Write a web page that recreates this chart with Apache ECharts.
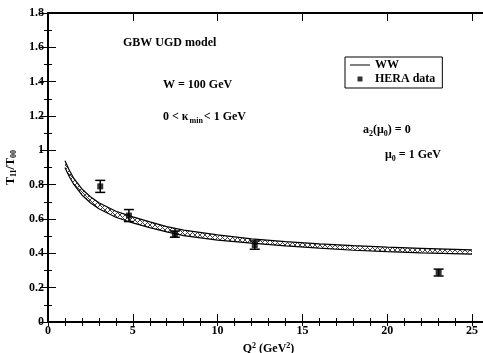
<!DOCTYPE html>
<html><head><meta charset="utf-8">
<script src="https://cdn.jsdelivr.net/npm/echarts@6/dist/echarts.min.js"></script>
<style>html,body{margin:0;padding:0;background:#fff}#c{width:483px;height:353px}</style>
</head><body><div id="c"></div>
<script>
// ---- data ----
const bandX     = [1, 1.25, 1.5, 2, 2.5, 3, 4, 5, 6, 7, 8, 10, 12, 14, 16, 18, 20, 22, 25];
const bandUpper = [0.94, 0.885, 0.84, 0.775, 0.73, 0.695, 0.645, 0.612, 0.583, 0.556, 0.535, 0.507, 0.484, 0.468, 0.455, 0.445, 0.436, 0.429, 0.42];
const bandLower = [0.90, 0.848, 0.805, 0.74, 0.695, 0.66, 0.61, 0.577, 0.55, 0.525, 0.503, 0.477, 0.459, 0.443, 0.43, 0.418, 0.41, 0.403, 0.395];
const heraX   = [3.08, 4.77, 7.48, 12.19, 23.03];
const heraY   = [0.79, 0.62, 0.512, 0.448, 0.288];
const heraErr = [0.035, 0.035, 0.018, 0.024, 0.02];
const xTickLabels = ['0', '5', '10', '15', '20', '25'];
const yTickLabels = ['0', '0.2', '0.4', '0.6', '0.8', '1', '1.2', '1.4', '1.6', '1.8'];

const FONT = 'Liberation Serif';
function hatch() {
  const c = document.createElement('canvas');
  c.width = 5; c.height = 5;
  const g = c.getContext('2d');
  g.fillStyle = '#fff'; g.fillRect(0, 0, 5, 5);
  g.strokeStyle = '#444'; g.lineWidth = 1;
  g.beginPath();
  g.moveTo(0, 0); g.lineTo(5, 5);
  g.moveTo(5, 0); g.lineTo(0, 5);
  g.stroke();
  return c;
}
const HATCH = hatch();
const chart = echarts.init(document.getElementById('c'));
const axisCommon = {
  type: 'value', min: 0, max: 26,
  axisLine: {show: false}, splitLine: {show: false},
  axisLabel: {show: false}
};
const yCommon = {
  type: 'value', min: 0, max: 1.8, interval: 0.2,
  splitLine: {show: false},
  axisLine: {show: true, lineStyle: {color: '#000', width: 2}},
  axisTick: {show: true, inside: true, length: 8, lineStyle: {color: '#000', width: 1}},
  minorTick: {show: true, splitNumber: 2, length: 4, lineStyle: {color: '#000', width: 1}}
};
const bold = {fontFamily: FONT, fontWeight: 'bold', fontSize: 12, color: '#000'};
const option = {
  animation: false,
  backgroundColor: '#fff',
  grid: {left: 48, top: 13, bottom: 31, right: -6, containLabel: false, outerBoundsMode: 'none'},
  xAxis: [
    Object.assign({}, axisCommon, {
      position: 'bottom', interval: 5,
      axisLine: {show: true, onZero: false, lineStyle: {color: '#000', width: 2}},
      axisTick: {show: true, inside: true, length: 8, lineStyle: {color: '#000', width: 1}},
      axisLabel: Object.assign({show: true, margin: 3, showMaxLabel: false,
        formatter: v => xTickLabels.includes(String(v)) ? String(v) : ''}, bold),
      name: 'Q{p|2} (GeV{p|2})', nameLocation: 'middle', nameGap: 17,
      nameTextStyle: Object.assign({}, bold, {rich: {p: Object.assign({}, bold, {fontSize: 8, padding: [0, 0, 7, 0]})}})
    }),
    Object.assign({}, axisCommon, {
      position: 'bottom', interval: 1,
      axisTick: {show: true, inside: true, length: 4, lineStyle: {color: '#000', width: 1}}
    }),
    Object.assign({}, axisCommon, {
      position: 'top', interval: 5,
      axisLine: {show: true, onZero: false, lineStyle: {color: '#000', width: 2}},
      axisTick: {show: true, inside: true, length: 8, lineStyle: {color: '#000', width: 1}}
    }),
    Object.assign({}, axisCommon, {
      position: 'top', interval: 1,
      axisTick: {show: true, inside: true, length: 4, lineStyle: {color: '#000', width: 1}}
    })
  ],
  yAxis: [
    Object.assign({}, yCommon, {
      position: 'left',
      axisLabel: Object.assign({show: true, margin: 4,
        formatter: v => yTickLabels[Math.round(v / 0.2)] || ''}, bold),
      name: 'T{s|11}/T{s|00}', nameLocation: 'middle', nameGap: 23, nameRotate: 90,
      nameTextStyle: Object.assign({}, bold, {
        rich: {s: Object.assign({}, bold, {fontSize: 8, padding: [7, 0, 0, 0]})}})
    }),
    Object.assign({}, yCommon, {position: 'right', axisLabel: {show: false}})
  ],
  legend: {
    left: 345, top: 57, orient: 'vertical',
    padding: [2, 7, 3, 5], itemGap: 2, itemWidth: 20, itemHeight: 5,
    borderColor: '#000', borderWidth: 1, backgroundColor: '#fff', borderRadius: 0,
    textStyle: bold,
    data: [{name: 'WW', icon: 'path://M0,0H20V1H0Z'}, {name: 'HERA data', icon: 'path://M0,0H10V10H0Z'}]
  },
  series: [
    {
      name: 'band', type: 'custom',
      data: bandX.map((x, i) => [x, bandLower[i], bandUpper[i]]),
      renderItem: function (params, api) {
        if (params.dataIndex !== 0) return null;
        const up = bandX.map((x, i) => api.coord([x, bandUpper[i]]));
        const lo = bandX.map((x, i) => api.coord([x, bandLower[i]])).reverse();
        return {type: 'polygon', shape: {points: up.concat(lo)},
          style: {fill: {image: HATCH, repeat: 'repeat'}, stroke: null}};
      },
      z: 1
    },
    {
      name: 'WW', type: 'line', symbol: 'none',
      data: bandX.map((x, i) => [x, bandUpper[i]]),
      lineStyle: {color: '#000', width: 1.2}, itemStyle: {color: '#000'}, z: 2
    },
    {
      name: 'WW', type: 'line', symbol: 'none',
      data: bandX.map((x, i) => [x, bandLower[i]]),
      lineStyle: {color: '#000', width: 1.2}, itemStyle: {color: '#000'}, z: 2
    },
    {
      name: 'err', type: 'custom',
      data: heraX.map((x, i) => [x, heraY[i] - heraErr[i], heraY[i] + heraErr[i]]),
      renderItem: function (params, api) {
        const lo = api.coord([api.value(0), api.value(1)]);
        const hi = api.coord([api.value(0), api.value(2)]);
        const w = 5;
        const st = {stroke: '#000', lineWidth: 1.5};
        return {type: 'group', children: [
          {type: 'line', shape: {x1: lo[0], y1: lo[1], x2: hi[0], y2: hi[1]}, style: st},
          {type: 'line', shape: {x1: lo[0] - w, y1: lo[1], x2: lo[0] + w, y2: lo[1]}, style: st},
          {type: 'line', shape: {x1: hi[0] - w, y1: hi[1], x2: hi[0] + w, y2: hi[1]}, style: st}
        ]};
      },
      z: 3
    },
    {
      name: 'HERA data', type: 'scatter', symbol: 'rect', symbolSize: 6,
      data: heraX.map((x, i) => [x, heraY[i]]),
      itemStyle: {color: '#000'}, z: 4
    }
  ],
  graphic: [
    {type: 'text', x: 123, y: 43, style: {text: 'GBW UGD model', font: 'bold 12px "Liberation Serif"', fill: '#000', verticalAlign: 'middle'}},
    {type: 'text', x: 163, y: 85, style: {text: 'W = 100 GeV', font: 'bold 12px "Liberation Serif"', fill: '#000', verticalAlign: 'middle'}},
    {type: 'text', x: 163, y: 117, style: {text: '{m|0 < κ}{s|min}{m|< 1 GeV}', verticalAlign: 'middle',
      rich: {m: bold, s: Object.assign({}, bold, {fontSize: 8, padding: [8, 1, 0, 1]})}}},
    {type: 'text', x: 363, y: 130, style: {text: '{m|a}{s|2}{m|(μ}{s|0}{m|) = 0}', verticalAlign: 'middle',
      rich: {m: bold, s: Object.assign({}, bold, {fontSize: 8, padding: [7, 0, 0, 0]})}}},
    {type: 'text', x: 385, y: 155, style: {text: '{m|μ}{s|0}{m| = 1 GeV}', verticalAlign: 'middle',
      rich: {m: bold, s: Object.assign({}, bold, {fontSize: 8, padding: [7, 0, 0, 0]})}}}
  ]
};
chart.setOption(option);
</script></body></html>
